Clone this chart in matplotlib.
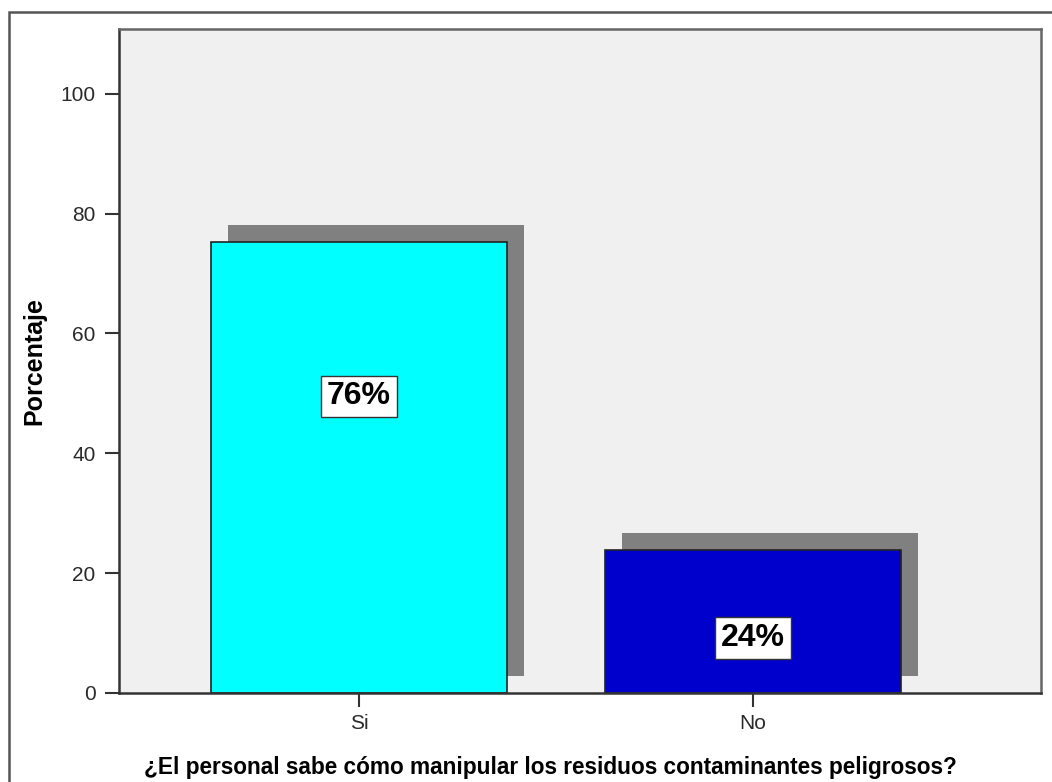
import matplotlib
matplotlib.use('Agg')
import matplotlib.pyplot as plt
from matplotlib.patches import Rectangle
import matplotlib.transforms as mtransforms

plt.rcParams['font.family'] = ['Liberation Sans', 'DejaVu Sans']

# Data ------------------------------------------------------------------------
categories = ['Si', 'No']
percent = [75.2, 23.9]
labels = ['76%', '24%']
colors = ['#00FFFF', '#0000CC']
yticks = [0, 20, 40, 60, 80, 100]

# Figure ----------------------------------------------------------------------
fig = plt.figure(figsize=(10.52, 7.82), dpi=100)
ax = fig.add_axes([119/1052, 1 - 693/782, (1041-119)/1052, (693-29)/782])
ax.set_facecolor('#F0F0F0')

x = range(len(categories))
width = 0.75

# shadow offset in pixels
shadow = mtransforms.offset_copy(ax.transData, fig=fig, x=17, y=17,
                                 units='dots')
ax.bar(x, percent, width=width, color='#808080', transform=shadow,
       zorder=1)
ax.bar(x, percent, width=width, color=colors, edgecolor='#222222',
       linewidth=1.2, zorder=2)

label_y = [49.5, 9.2]
for xi, ly, lab in zip(x, label_y, labels):
    ax.text(xi, ly, lab, ha='center', va='center', fontsize=23,
            fontweight='bold', zorder=3,
            bbox=dict(boxstyle='square,pad=0.18', facecolor='white',
                      edgecolor='#333333', linewidth=1))

ax.set_xlim(-0.609, 1.731)
ax.set_ylim(0, 110.8)
ax.set_yticks(yticks)
ax.set_xticks(list(x))
ax.set_xticklabels(categories)
ax.tick_params(axis='both', labelsize=15, length=10, width=1.5,
               color='#333333', labelcolor='#2a2a2a')
ax.tick_params(axis='y', pad=7)
ax.tick_params(axis='x', pad=5)

for side in ['left', 'bottom']:
    ax.spines[side].set_linewidth(1.8)
    ax.spines[side].set_color('#333333')
for side in ['top', 'right']:
    ax.spines[side].set_linewidth(1.8)
    ax.spines[side].set_color('#666666')

ax.set_ylabel('Porcentaje', fontsize=18, fontweight='bold', labelpad=10)
ax.set_xlabel('¿El personal sabe cómo manipular los residuos contaminantes '
              'peligrosos?', fontsize=16.3, fontweight='bold')
ax.xaxis.set_label_coords(0.4675, -0.095)

# outer frame
fig.patches.append(Rectangle((9/1052, -0.05), 1.1, 1 - 12/782 + 0.05,
                             transform=fig.transFigure, fill=False,
                             edgecolor='#555555', linewidth=1.8))

fig.savefig('out.png', dpi=100)
